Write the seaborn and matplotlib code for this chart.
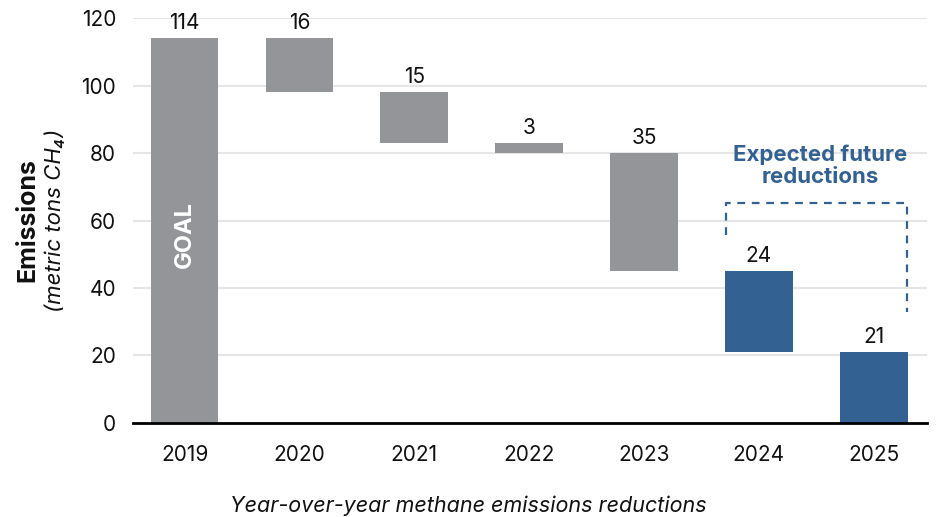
import matplotlib
matplotlib.use("Agg")
import matplotlib.pyplot as plt
import seaborn as sns
import pandas as pd

# data
years = ["2019", "2020", "2021", "2022", "2023", "2024", "2025"]
reductions = [114, 16, 15, 3, 35, 24, 21]
is_future = [False, False, False, False, False, True, True]

GRAY = "#939598"
BLUE = "#336191"

# waterfall: first bar is the goal from zero, the rest step down
bottoms = []
level = reductions[0]
for i, r in enumerate(reductions):
    if i == 0:
        bottoms.append(0)
    else:
        level -= r
        bottoms.append(level)

df = pd.DataFrame({"year": years, "reduction": reductions, "bottom": bottoms})

sns.set_style("white")
plt.rcParams["font.family"] = ["Inter", "DejaVu Sans"]

fig = plt.figure(figsize=(9.36, 5.17), dpi=100)
ax = fig.add_axes([0.142, 0.182, 0.848, 0.783])

sns.barplot(data=df, x="year", y="reduction", color=GRAY,
            bottom=df["bottom"].values, width=0.59, saturation=1,
            ax=ax, zorder=3, errorbar=None)
for patch, f in zip(ax.patches, is_future):
    patch.set_facecolor(BLUE if f else GRAY)
    patch.set_edgecolor("none")

ax.set_ylim(0, 120)
ax.set_xlim(-0.45, 6.46)
ax.set_yticks(range(0, 121, 20))
ax.yaxis.grid(True, color="#e6e6e6", linewidth=1.5, zorder=0)
ax.set_axisbelow(True)
for s in ["top", "right", "left"]:
    ax.spines[s].set_visible(False)
ax.spines["bottom"].set_linewidth(2)
ax.spines["bottom"].set_color("black")
ax.spines["bottom"].set_zorder(5)
ax.tick_params(axis="y", length=0, labelsize=15, pad=12, colors="#111111")
ax.tick_params(axis="x", length=0, labelsize=15, pad=16, colors="#111111")
ax.set_xlabel("")
ax.set_ylabel("")

# value labels above each bar
for i, (r, b) in enumerate(zip(reductions, bottoms)):
    ax.text(i, b + r + 2.7, str(r), ha="center", va="baseline", fontsize=15,
            color="#111111", clip_on=False)

ax.text(0, 55.7, "GOAL", rotation=90, ha="center", va="center",
        color="white", fontsize=17, fontweight="bold")

# bracket around future reductions
xl, xr = 5 - 0.29, 6 + 0.29
ax.plot([xl, xl, xr, xr], [55.7, 65.2, 65.2, 33], color=BLUE, lw=1.6,
        ls=(0, (3.5, 3)), clip_on=False, zorder=4)
ax.text(5.53, 76.2, "Expected future\nreductions", ha="center", va="center",
        color=BLUE, fontsize=16, fontweight="bold", linespacing=1.15)

# axis titles
fig.text(0.03, 0.574, "Emissions", rotation=90, ha="center", va="center",
         fontsize=18, fontweight="bold", color="#111111")
fig.text(0.059, 0.574, "(metric tons CH\u2084)", rotation=90, ha="center",
         va="center", fontsize=16, style="italic", color="#111111")
fig.text(0.5, 0.022, "Year-over-year methane emissions reductions",
         ha="center", va="center", fontsize=15.5, style="italic",
         color="#111111")

fig.savefig("out.png", dpi=100)
